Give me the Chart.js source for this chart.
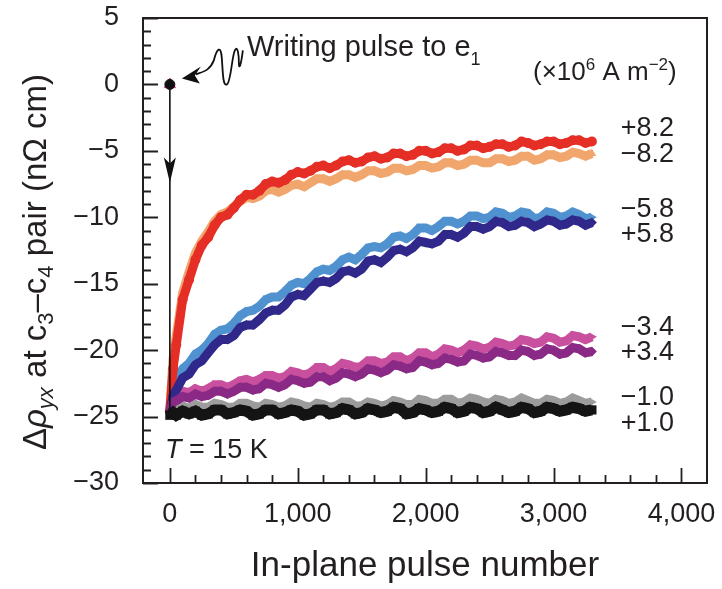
<!DOCTYPE html>
<html><head><meta charset="utf-8">
<script src="https://cdn.jsdelivr.net/npm/chart.js@4/dist/chart.umd.min.js"></script>
<style>html,body{margin:0;padding:0;background:#fff;}#wrap{width:722px;height:589px;}</style>
</head><body><div id="wrap"><canvas id="c" width="722" height="589"></canvas></div>
<script>
// ---- data ----
const pulses = [0,25,50,100,150,200,250,300,350,400,
  450,500,550,600,650,700,750,800,850,900,
  950,1000,1050,1100,1150,1200,1250,1300,1350,1400,
  1450,1500,1550,1600,1650,1700,1750,1800,1850,1900,
  1950,2000,2050,2100,2150,2200,2250,2300,2350,2400,
  2450,2500,2550,2600,2650,2700,2750,2800,2850,2900,
  2950,3000,3050,3100,3150,3200,3250,3300];
const p82 = [-24.6,-21.4,-19.6,-16.2,-14.7,-13.2,-12.1,-11.5,-10.6,-10.0,
  -9.8,-9.3,-8.7,-8.3,-8.3,-8.0,-7.5,-7.3,-7.4,-7.2,
  -6.8,-6.6,-6.7,-6.5,-6.2,-6.1,-6.3,-6.1,-5.8,-5.7,
  -5.9,-5.8,-5.5,-5.4,-5.6,-5.5,-5.2,-5.2,-5.4,-5.3,
  -5.0,-5.0,-5.2,-5.1,-4.8,-4.8,-5.0,-4.9,-4.6,-4.6,
  -4.8,-4.7,-4.5,-4.5,-4.7,-4.6,-4.3,-4.4,-4.6,-4.5,
  -4.3,-4.3,-4.5,-4.4,-4.2,-4.2,-4.4,-4.3];
const m82 = [-24.4,-20.6,-18.9,-15.7,-14.1,-12.7,-11.8,-11.1,-10.3,-9.8,
  -9.6,-9.2,-8.8,-8.5,-8.6,-8.4,-8.0,-7.9,-8.1,-7.9,
  -7.6,-7.5,-7.7,-7.4,-7.1,-7.1,-7.3,-7.1,-6.8,-6.8,
  -7.0,-6.8,-6.5,-6.5,-6.7,-6.6,-6.3,-6.3,-6.5,-6.4,
  -6.1,-6.1,-6.3,-6.2,-5.9,-5.9,-6.1,-6.0,-5.7,-5.7,
  -5.9,-5.9,-5.6,-5.6,-5.8,-5.7,-5.4,-5.4,-5.7,-5.6,
  -5.3,-5.3,-5.5,-5.4,-5.1,-5.2,-5.4,-5.2];
const m58 = [-24.5,-22.9,-22.4,-21.4,-21.0,-20.3,-20.0,-19.5,-18.8,-18.5,
  -18.4,-18.0,-17.4,-17.1,-17.0,-16.7,-16.2,-16.0,-16.0,-15.6,
  -15.1,-14.9,-15.0,-14.6,-14.1,-13.9,-14.0,-13.7,-13.2,-13.0,
  -13.2,-12.8,-12.3,-12.2,-12.3,-12.0,-11.5,-11.4,-11.6,-11.3,
  -10.8,-10.8,-11.0,-10.7,-10.3,-10.3,-10.5,-10.3,-9.9,-9.9,
  -10.1,-10.0,-9.6,-9.7,-10.0,-9.9,-9.6,-9.7,-10.1,-10.0,
  -9.6,-9.7,-10.0,-9.9,-9.6,-9.8,-10.1,-10.0];
const p58 = [-24.7,-23.4,-23.0,-22.1,-21.8,-21.1,-20.8,-20.2,-19.6,-19.2,
  -19.2,-18.9,-18.3,-18.1,-18.1,-17.7,-17.2,-17.0,-17.0,-16.6,
  -16.0,-15.8,-15.9,-15.4,-14.9,-14.8,-14.9,-14.6,-14.1,-14.0,
  -14.2,-13.9,-13.3,-13.2,-13.4,-13.0,-12.5,-12.4,-12.6,-12.3,
  -11.8,-11.9,-12.0,-11.8,-11.3,-11.3,-11.5,-11.2,-10.7,-10.7,
  -10.9,-10.7,-10.3,-10.4,-10.7,-10.6,-10.3,-10.4,-10.7,-10.5,
  -10.2,-10.3,-10.6,-10.5,-10.2,-10.3,-10.6,-10.4];
const m34 = [-24.3,-23.6,-23.4,-23.1,-23.2,-22.9,-23.1,-22.9,-22.6,-22.6,
  -22.8,-22.6,-22.3,-22.2,-22.4,-22.2,-21.9,-21.9,-22.1,-22.0,
  -21.6,-21.7,-21.9,-21.7,-21.3,-21.3,-21.6,-21.4,-21.0,-21.1,
  -21.3,-21.2,-20.8,-20.8,-21.0,-20.9,-20.5,-20.5,-20.8,-20.6,
  -20.2,-20.2,-20.5,-20.3,-19.9,-20.0,-20.2,-20.0,-19.6,-19.7,
  -19.9,-19.8,-19.4,-19.5,-19.7,-19.6,-19.2,-19.3,-19.5,-19.4,
  -19.0,-19.1,-19.4,-19.3,-18.9,-19.0,-19.2,-19.0];
const p34 = [-24.5,-23.9,-23.8,-23.5,-23.6,-23.3,-23.5,-23.4,-23.1,-23.1,
  -23.3,-23.1,-22.8,-22.8,-23.0,-22.9,-22.5,-22.6,-22.8,-22.6,
  -22.2,-22.3,-22.5,-22.4,-22.0,-22.0,-22.3,-22.1,-21.7,-21.8,
  -22.0,-21.8,-21.4,-21.5,-21.7,-21.5,-21.1,-21.2,-21.4,-21.3,
  -20.8,-20.9,-21.1,-21.0,-20.6,-20.7,-20.9,-20.8,-20.3,-20.4,
  -20.6,-20.5,-20.1,-20.2,-20.4,-20.4,-20.0,-20.1,-20.4,-20.3,
  -19.9,-20.0,-20.3,-20.2,-19.8,-19.9,-20.2,-20.1];
const m10 = [-24.6,-24.3,-24.4,-24.2,-24.4,-24.1,-24.3,-24.3,-24.0,-24.1,
  -24.3,-24.3,-24.0,-24.0,-24.2,-24.3,-24.0,-24.1,-24.3,-24.2,
  -23.9,-24.0,-24.2,-24.3,-24.0,-24.1,-24.3,-24.2,-23.9,-23.9,
  -24.2,-24.2,-23.9,-24.0,-24.2,-24.1,-23.8,-23.9,-24.1,-24.1,
  -23.7,-23.8,-24.0,-24.0,-23.7,-23.7,-24.0,-23.9,-23.6,-23.7,
  -23.9,-24.0,-23.7,-23.8,-24.0,-23.9,-23.6,-23.8,-24.0,-24.0,
  -23.7,-23.8,-24.0,-23.9,-23.6,-23.8,-24.0,-23.9];
const p10 = [-24.9,-24.7,-24.9,-24.6,-24.8,-24.6,-24.9,-24.8,-24.5,-24.5,
  -24.8,-24.7,-24.5,-24.6,-24.9,-24.8,-24.5,-24.5,-24.8,-24.7,
  -24.5,-24.6,-24.9,-24.8,-24.5,-24.5,-24.8,-24.7,-24.4,-24.5,
  -24.8,-24.7,-24.4,-24.5,-24.7,-24.6,-24.3,-24.4,-24.8,-24.7,
  -24.4,-24.5,-24.7,-24.6,-24.3,-24.4,-24.7,-24.6,-24.3,-24.4,
  -24.7,-24.6,-24.3,-24.5,-24.7,-24.6,-24.3,-24.4,-24.7,-24.6,
  -24.3,-24.4,-24.6,-24.5,-24.3,-24.4,-24.6,-24.5];
const writeX = [0];
const writeY = [0];
const arrowX = [0, 0];
const arrowY = [0, -24.5];
const seriesLabels = ['+8.2','\u22128.2','\u22125.8','+5.8','\u22123.4','+3.4','\u22121.0','+1.0'];
const xTickValues = [0,1000,2000,3000,4000];
const yTickValues = [-30,-25,-20,-15,-10,-5,0,5];

const FONT = '"Liberation Sans", Arial, Helvetica, sans-serif';
const INK = '#231f20';
const pts = (ys) => pulses.map((x,i)=>({x, y: ys[i]}));
const zip = (xs, ys) => xs.map((x,i)=>({x, y: ys[i]}));

function series(data, color, style, rot, width, rad) {
  return { data: pts(data), borderColor: color, backgroundColor: color, showLine: true,
    borderWidth: width || 9, pointStyle: style, pointRotation: rot || 0, pointRadius: rad || 5,
    pointBorderWidth: 0, tension: 0, borderJoinStyle: 'miter', borderCapStyle: 'butt' };
}

const datasets = [
  { data: zip(writeX, writeY), pointStyle: 'circle', pointRadius: 5, backgroundColor: '#111', borderColor: '#111', showLine: false },
  { data: zip(writeX, writeY), pointStyle: 'triangle', pointRadius: 6.5, backgroundColor: '#d9489a', borderColor: '#d9489a', showLine: false },
  { data: zip(arrowX, arrowY), borderColor: '#111', borderWidth: 1.6, pointRadius: 0, showLine: true },
  series(p10, '#141414', 'rect', 0, 11, 6.5),
  series(p34, '#8a2a86', 'rectRot', 0),
  series(p58, '#30288a', 'rectRot', 0),
  series(p82, '#e52e25', 'circle', 0),
  series(m10, '#9c9c9c', 'triangle', 90),
  series(m34, '#c9509e', 'triangle', 90),
  series(m58, '#5092cf', 'triangle', 90),
  series(m82, '#f0a66c', 'triangle', 0)
];

function fmtX(v){ return v === 0 ? '0' : v.toLocaleString('en-US'); }
function fmtY(v){ return v < 0 ? '\u2212' + Math.abs(v) : String(v); }

function drawRuns(ctx, runs, x, y) {
  let cx = x;
  for (const [t, f, dy] of runs) { ctx.font = f; ctx.fillText(t, cx, y + (dy||0)); cx += ctx.measureText(t).width; }
  return cx;
}
function runsWidth(ctx, runs) { let w = 0; for (const [t,f] of runs) { ctx.font = f; w += ctx.measureText(t).width; } return w; }

const decor = {
  id: 'decor',
  afterDraw(chart) {
    const {ctx, chartArea: a, scales: {x, y}} = chart;
    ctx.save();
    ctx.strokeStyle = INK; ctx.lineWidth = 2;
    ctx.strokeRect(a.left, a.top, a.right - a.left, a.bottom - a.top);
    ctx.lineWidth = 1.8; ctx.beginPath();
    for (let v = -30; v <= 5; v++) { const py = Math.round(y.getPixelForValue(v)) + 0.5; const L = (v % 5 === 0) ? 15 : 8; ctx.moveTo(a.left, py); ctx.lineTo(a.left + L, py); }
    for (let v = 0; v <= 4000; v += 200) { const px = Math.round(x.getPixelForValue(v)) + 0.5; const L = (v % 1000 === 0) ? 15 : 8; ctx.moveTo(px, a.bottom); ctx.lineTo(px, a.bottom - L); }
    ctx.stroke();

    const x0 = x.getPixelForValue(0), y0 = y.getPixelForValue(0);
    const tipY = y.getPixelForValue(-7.4), baseY = y.getPixelForValue(-5.5);
    ctx.fillStyle = '#111';
    ctx.beginPath(); ctx.moveTo(x0, tipY); ctx.lineTo(x0 - 6, baseY); ctx.lineTo(x0, baseY + 6); ctx.lineTo(x0 + 6, baseY); ctx.closePath(); ctx.fill();

    ctx.strokeStyle = '#111'; ctx.lineWidth = 1.8; ctx.lineJoin = 'round';
    const P = (dx, dy) => [x0 + dx, y0 + dy];
    ctx.beginPath();
    ctx.moveTo(...P(26, -10));
    ctx.bezierCurveTo(...P(34, -13), ...P(40, -14), ...P(44, -24));
    ctx.bezierCurveTo(...P(47, -36), ...P(51, -40), ...P(52, -26));
    ctx.bezierCurveTo(...P(53, -12), ...P(53, 2), ...P(57, 0));
    ctx.bezierCurveTo(...P(61, -2), ...P(62, -28), ...P(65, -34));
    ctx.bezierCurveTo(...P(68, -40), ...P(69, -28), ...P(69, -22));
    ctx.bezierCurveTo(...P(69, -14), ...P(71, -18), ...P(73, -34));
    ctx.stroke();
    ctx.beginPath();
    ctx.moveTo(...P(12, -6)); ctx.lineTo(...P(31, -18)); ctx.lineTo(...P(25, -9)); ctx.lineTo(...P(30, -1)); ctx.closePath(); ctx.fill();

    ctx.fillStyle = INK; ctx.textBaseline = 'alphabetic'; ctx.textAlign = 'left';
    const F = (s, st) => (st || '') + ' ' + s + 'px ' + FONT;
    drawRuns(ctx, [['Writing pulse to e', F(29)], ['1', F(18), 9]], 247, 56);
    drawRuns(ctx, [['(\u00d710', F(26)], ['6', F(17), -10], [' A m', F(26)], ['\u22122', F(17), -10], [')', F(26)]], 533, 80);
    drawRuns(ctx, [['T', F(27, 'italic')], [' = 15 K', F(27)]], 165, 458);

    ctx.textAlign = 'right'; ctx.font = F(27);
    const labY = [136, 162, 217, 242, 335, 360, 405, 431];
    seriesLabels.forEach((t, i) => ctx.fillText(t, 674, labY[i]));

    ctx.textAlign = 'left';
    const yt = [['\u0394', F(33)], ['\u03c1', F(33, 'italic')], ['yx', F(22, 'italic'), 7], [' at c', F(33)], ['3', F(22), 7],
                ['\u2013c', F(33)], ['4', F(22), 7], [' pair (n\u03a9 cm)', F(33)]];
    const w = runsWidth(ctx, yt);
    ctx.translate(46, 262); ctx.rotate(-Math.PI / 2);
    drawRuns(ctx, yt, -w / 2, 0);
    ctx.restore();
  }
};

new Chart(document.getElementById('c'), {
  type: 'scatter',
  data: { datasets },
  options: {
    responsive: false, animation: false, devicePixelRatio: 1,
    layout: { padding: { left: 0, right: 15, top: 18, bottom: 0 } },
    plugins: { legend: { display: false }, tooltip: { enabled: false } },
    scales: {
      x: {
        type: 'linear', min: -210, max: 4200,
        grid: { display: false }, border: { display: false },
        afterBuildTicks: (s) => { s.ticks = xTickValues.map(v => ({ value: v })); },
        afterFit: (s) => { s.height = 106; s.paddingLeft = 0; s.paddingRight = 0; s.paddingTop = 0; s.paddingBottom = 0; },
        ticks: { callback: (v) => fmtX(v), font: { family: FONT, size: 27 }, color: INK, padding: 7, maxRotation: 0, autoSkip: false },
        title: { display: true, text: 'In-plane pulse number', font: { family: FONT, size: 35 }, color: INK, padding: { top: 0, bottom: 2 } }
      },
      y: {
        type: 'linear', min: -30, max: 5,
        grid: { display: false }, border: { display: false },
        afterBuildTicks: (s) => { s.ticks = yTickValues.map(v => ({ value: v })); },
        afterFit: (s) => { s.width = 143; s.paddingLeft = 0; s.paddingRight = 0; s.paddingTop = 0; s.paddingBottom = 0; },
        ticks: { callback: (v) => fmtY(v), font: { family: FONT, size: 27 }, color: INK, padding: 16, autoSkip: false }
      }
    }
  },
  plugins: [decor]
});
</script></body></html>
